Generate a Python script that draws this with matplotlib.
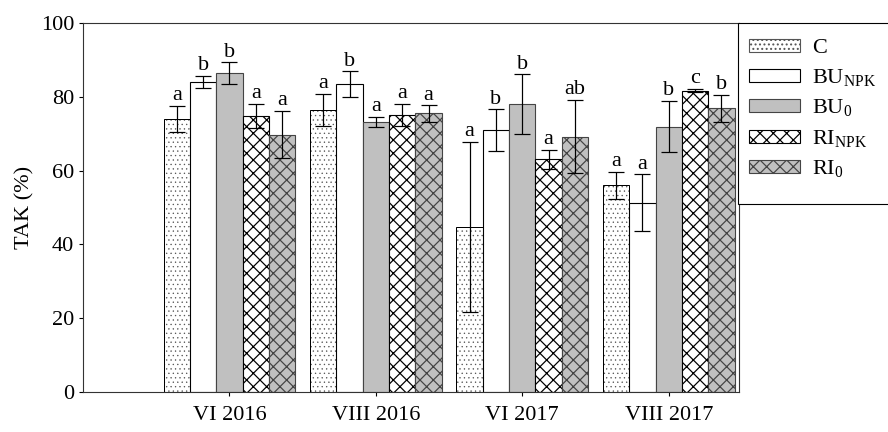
import numpy as np
import matplotlib
matplotlib.use('Agg')
import matplotlib.pyplot as plt
from matplotlib.patches import Patch, Rectangle

plt.rcParams['font.family'] = ['Liberation Serif', 'DejaVu Serif']
plt.rcParams['mathtext.fontset'] = 'custom'
plt.rcParams['mathtext.rm'] = 'Liberation Serif'
plt.rcParams['hatch.linewidth'] = 1.1

groups = ['VI 2016', 'VIII 2016', 'VI 2017', 'VIII 2017']
series = ['C', 'BU$_\\mathregular{NPK}$', 'BU$_\\mathregular{0}$',
          'RI$_\\mathregular{NPK}$', 'RI$_\\mathregular{0}$']

# mean values per date
c_vals = [74.0, 76.4, 44.8, 56.0]
bunpk_vals = [84.0, 83.4, 71.0, 51.3]
bu0_vals = [86.4, 73.2, 78.0, 71.9]
rinpk_vals = [74.8, 75.0, 63.1, 81.7]
ri0_vals = [69.7, 75.5, 69.2, 76.9]

c_err = [3.5, 4.4, 23.0, 3.6]
bunpk_err = [1.6, 3.5, 5.6, 7.7]
bu0_err = [2.9, 1.3, 8.1, 6.9]
rinpk_err = [3.2, 3.0, 2.6, 0.5]
ri0_err = [6.4, 2.2, 9.9, 3.7]

letters = [['a', 'a', 'a', 'a'],
           ['b', 'b', 'b', 'a'],
           ['b', 'a', 'b', 'b'],
           ['a', 'a', 'a', 'c'],
           ['a', 'a', 'ab', 'b']]

vals = [c_vals, bunpk_vals, bu0_vals, rinpk_vals, ri0_vals]
errs = [c_err, bunpk_err, bu0_err, rinpk_err, ri0_err]
fills = ['white', 'white', '#c0c0c0', 'white', '#c0c0c0']
edges = ['black', 'black', '#444444', 'black', '#444444']
hatches = ['...', None, None, 'xx', 'xx']

FS = 20

fig = plt.figure(figsize=(11.1, 5.4), dpi=80)
ax = fig.add_axes([0.0935, 0.0926, 0.7387, 0.8542])

x = np.arange(len(groups))
w = 0.18
handles = []
for i in range(5):
    pos = x + (i - 2) * w
    if i == 0:
        # light dotted fill, then black outline on top
        with plt.rc_context({'hatch.linewidth': 0.5}):
            ax.bar(pos, vals[i], w, color='white', edgecolor='#555555',
                   linewidth=0, hatch=hatches[i], zorder=2)
            h = Patch(facecolor='white', edgecolor='#555555', hatch=hatches[i])
        ax.bar(pos, vals[i], w, color='none', edgecolor='black',
               linewidth=0.9, zorder=2)
    else:
        ax.bar(pos, vals[i], w, color=fills[i], edgecolor=edges[i],
               linewidth=1.0, hatch=hatches[i], zorder=2)
        h = Patch(facecolor=fills[i], edgecolor=edges[i], hatch=hatches[i],
                  linewidth=1.0)
    handles.append(h)
    ax.errorbar(pos, vals[i], yerr=errs[i], fmt='none', ecolor='black',
                elinewidth=1.1, capsize=7.2, capthick=1.1, zorder=3)
    for j in range(len(groups)):
        ax.text(pos[j], vals[i][j] + errs[i][j] + 0.2, letters[i][j],
                ha='center', va='bottom', fontsize=FS)

ax.set_xlim(-1.0, 3.48)
ax.set_ylim(0, 100)
ax.set_yticks([0, 20, 40, 60, 80, 100])
ax.set_xticks(x)
ax.set_xticklabels(groups)
ax.tick_params(axis='both', direction='out', length=4, labelsize=FS, width=1)
ax.tick_params(axis='y', pad=4)
ax.tick_params(axis='x', pad=9)
ax.set_ylabel('TAK (%)', fontsize=FS, labelpad=6)
for s in ax.spines.values():
    s.set_linewidth(1.0)
    s.set_color('#333333')

# legend frame drawn separately (runs off the right edge like the original)
fig.patches.append(Rectangle((738 / 888, 1 - 204 / 432), 0.3, 181 / 432,
                             transform=fig.transFigure, facecolor='white',
                             edgecolor='black', linewidth=1.0, zorder=4))
leg = fig.legend(handles, series, loc='upper left',
                 bbox_to_anchor=(742 / 888, 1 - 32 / 432),
                 fontsize=FS, frameon=False,
                 handlelength=2.3, handleheight=0.55, labelspacing=0.4,
                 borderpad=0.3, borderaxespad=0, handletextpad=0.55)
leg.set_zorder(5)

fig.savefig('out.png', dpi=80)
